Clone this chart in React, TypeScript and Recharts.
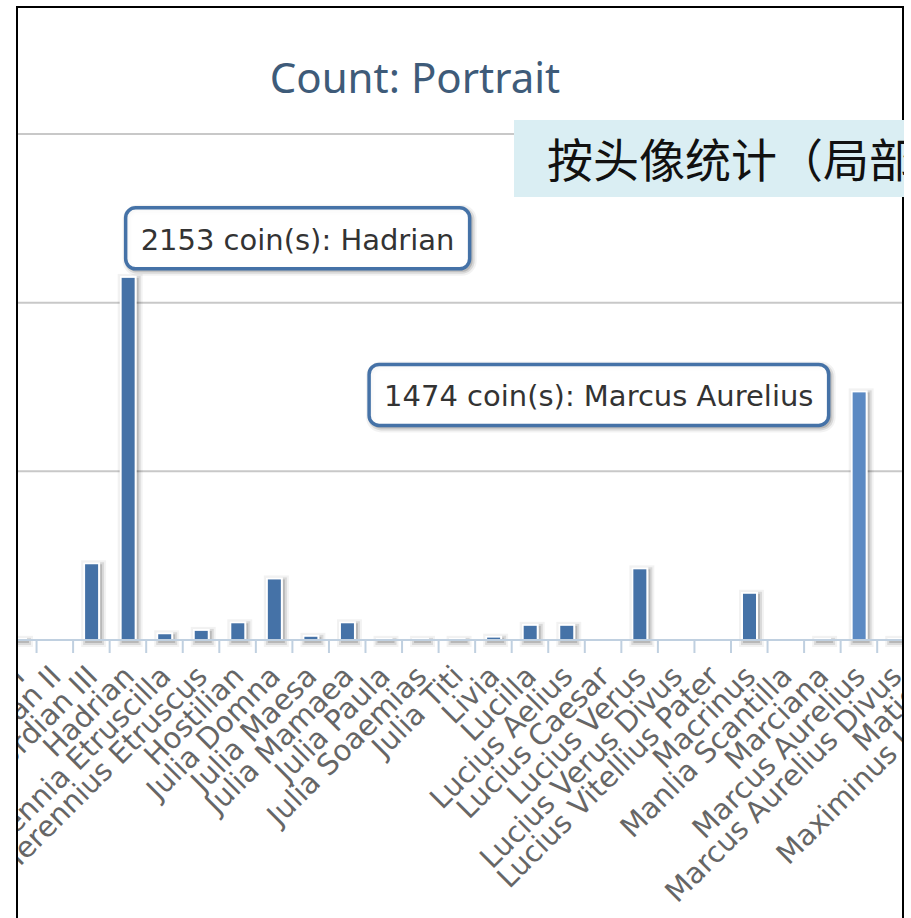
import { BarChart, Bar, XAxis, YAxis, CartesianGrid, LabelList } from "recharts";

// portraits, alphabetical as on the source axis (first and last ones fall outside the crop)
const portraits = [
  "Gordian I", "Gordian II", "Gordian III", "Hadrian", "Herennia Etruscilla",
  "Herennius Etruscus", "Hostilian", "Julia Domna", "Julia Maesa", "Julia Mamaea",
  "Julia Paula", "Julia Soaemias", "Julia Titi", "Livia", "Lucilla",
  "Lucius Aelius", "Lucius Caesar", "Lucius Verus", "Lucius Verus Divus",
  "Lucius Vitellius Pater", "Macrinus", "Manlia Scantilla", "Marciana",
  "Marcus Aurelius", "Marcus Aurelius Divus", "Matidia", "Maximinus I Thrax",
];
const coins = [
  7, 0, 455, 2153, 40,
  60, 105, 365, 25, 105,
  7, 7, 7, 20, 90,
  90, 0, 425, 0,
  0, 280, 0, 7,
  1474, 7, 60, 120,
];
const yTicks = [0, 1000, 2000, 3000];
const tooltipNames = ["Hadrian", "Marcus Aurelius"];
const hoveredName = "Marcus Aurelius";

const data = portraits.map((name, i) => ({ name, coins: coins[i] }));

const BAND = 36.55;
const LEFT_MARGIN = 40;
const CHART_W = LEFT_MARGIN + BAND * portraits.length;
const CHART_PAGE_X = -40.3;
const VISIBLE_RIGHT = 902 - CHART_PAGE_X;
const TIP_FONT = "'DejaVu Sans'";
const TIP_SIZE = 29;

let ctx: CanvasRenderingContext2D | null = null;
function textWidth(text: string, font: string) {
  if (!ctx && typeof document !== "undefined") {
    ctx = document.createElement("canvas").getContext("2d");
  }
  if (!ctx) return text.length * 15;
  ctx.font = font;
  return ctx.measureText(text).width;
}

function shadows(el: (i: number) => any) {
  return [1, 2, 3].map((i) => el(i));
}

function CoinBar(props: any) {
  const { x, y, width, height, payload } = props;
  if (!payload || !payload.coins) return <g />;
  const h = Math.max(height, 0);
  const fill = payload.name === hoveredName ? "#5c8ac3" : "#4572a7";
  return (
    <g>
      {shadows((i) => (
        <rect
          key={i}
          x={x}
          y={y}
          width={width}
          height={h}
          fill="none"
          stroke="#000"
          strokeOpacity={0.05 * i}
          strokeWidth={(7 - 2 * i) * 2}
          transform="translate(2,2)"
        />
      ))}
      <rect x={x} y={y} width={width} height={h} fill={fill} stroke="#fff" strokeWidth={2} />
    </g>
  );
}

function CoinTip(props: any) {
  const name = props.value;
  if (!tooltipNames.includes(name)) return null;
  const vb = props.viewBox ?? props;
  const x = vb.x;
  const y = vb.y;
  const text = `${coins[portraits.indexOf(name)]} coin(s): ${name}`;
  const w = textWidth(text, `${TIP_SIZE}px ${TIP_FONT}`) + 30;
  const h = 61;
  const placeLeft = x + w > VISIBLE_RIGHT;
  const bx = placeLeft ? x - 23 - w : x + 5;
  const by = placeLeft ? y - 27 : y - 69;
  return (
    <g>
      {shadows((i) => (
        <rect
          key={i}
          x={bx}
          y={by}
          width={w}
          height={h}
          rx={10}
          fill="none"
          stroke="#000"
          strokeOpacity={0.05 * i}
          strokeWidth={(7 - 2 * i) * 2}
          transform="translate(2,2)"
        />
      ))}
      <rect x={bx} y={by} width={w} height={h} rx={10} fill="rgba(255,255,255,0.9)" stroke="#4572a7" strokeWidth={3.5} />
      <text x={bx + 15} y={by + 42} fontFamily={TIP_FONT} fontSize={TIP_SIZE} fill="#333">
        {text}
      </text>
    </g>
  );
}

function PortraitTick(props: any) {
  const { x, y, payload } = props;
  const tx = x + 8;
  const ty = y + 38;
  return (
    <g>
      <line x1={x - BAND / 2} x2={x - BAND / 2} y1={y + 1} y2={y + 13} stroke="#C0D0E0" strokeWidth={2} />
      <text
        x={tx}
        y={ty}
        transform={`rotate(-45, ${tx}, ${ty})`}
        textAnchor="end"
        fontFamily="'DejaVu Sans'"
        fontSize={29}
        fill="#666"
      >
        {payload.value}
      </text>
    </g>
  );
}

export default function App() {
  return (
    <div style={{ position: "absolute", left: 0, top: 0, width: 911, height: 918, overflow: "hidden", background: "#fff" }}>
      <div
        style={{
          position: "absolute",
          left: 16,
          top: 6,
          width: 884,
          height: 940,
          border: "2px solid #000",
          overflow: "hidden",
        }}
      >
        <div style={{ position: "absolute", left: CHART_PAGE_X - 18, top: -8 }}>
          <BarChart
            width={CHART_W}
            height={918}
            data={data}
            margin={{ top: 134, right: 0, bottom: 0, left: LEFT_MARGIN }}
            barSize={15}
          >
            <CartesianGrid vertical={false} stroke="#C8C8C8" strokeWidth={2} />
            <YAxis hide type="number" domain={[0, 3000]} ticks={yTicks} />
            <XAxis
              dataKey="name"
              interval={0}
              height={278}
              tickSize={0}
              tickMargin={0}
              tickLine={false}
              axisLine={{ stroke: "#C0D0E0", strokeWidth: 2 }}
              tick={<PortraitTick />}
            />
            <Bar dataKey="coins" isAnimationActive={false} shape={<CoinBar />}>
              <LabelList dataKey="name" content={<CoinTip />} />
            </Bar>
          </BarChart>
        </div>
      </div>
      <svg style={{ position: "absolute", left: 0, top: 0 }} width={911} height={120}>
        <text x={415} y={93} textAnchor="middle" fontFamily="'Noto Sans'" fontSize={42} fill="#3e5b79">
          Count: Portrait
        </text>
      </svg>
      <div
        style={{
          position: "absolute",
          left: 514,
          top: 120,
          width: 390,
          height: 77,
          background: "#daeef3",
          overflow: "hidden",
        }}
      >
        <svg width={390} height={77}>
          <text x={33} y={57} fontFamily="'Noto Sans CJK SC'" fontSize={46} fill="#111">
            按头像统计（局部）
          </text>
        </svg>
      </div>
    </div>
  );
}
